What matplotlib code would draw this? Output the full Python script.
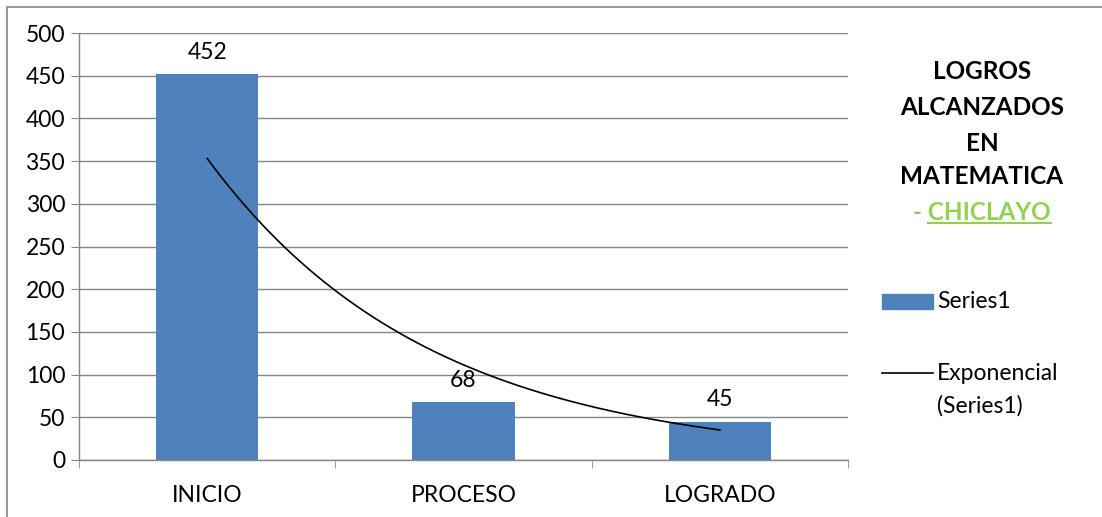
import numpy as np
import matplotlib
matplotlib.use("Agg")
import matplotlib.pyplot as plt
from matplotlib.lines import Line2D
from matplotlib.patches import Rectangle

plt.rcParams['font.family'] = ['Lato', 'DejaVu Sans']

categorias = ['INICIO', 'PROCESO', 'LOGRADO']
valores = [452, 68, 45]
yticks = [0, 50, 100, 150, 200, 250, 300, 350, 400, 450, 500]

W, H = 1102, 517
FS = 16.5
azul = '#4F81BD'
fig = plt.figure(figsize=(W / 100, H / 100), dpi=100)
ax = fig.add_axes([79 / W, (H - 460) / H, (848 - 79) / W, (460 - 33) / H])

x = np.arange(len(categorias))
barras = ax.bar(x, valores, width=0.4, color=azul, zorder=2)

# linea de tendencia exponencial (ajuste en log, como Excel)
b, a = np.polyfit(x + 1, np.log(valores), 1)
xs = np.linspace(1, len(valores), 200)
ax.plot(xs - 1, np.exp(a + b * xs), color='black', lw=1.2, zorder=3)

for xi, v in zip(x, valores):
    ax.annotate(str(v), (xi, v), xytext=(0, 8), textcoords='offset points',
                ha='center', va='bottom', fontsize=FS)

ax.set_xlim(-0.5, len(categorias) - 0.5)
ax.set_ylim(0, 500)
ax.set_yticks(yticks)
ax.set_xticks(x)
ax.set_xticklabels(categorias)
ax.set_xticks(np.arange(len(categorias) + 1) - 0.5, minor=True)
ax.tick_params(axis='x', which='major', length=0, pad=18, labelsize=FS)
ax.tick_params(axis='x', which='minor', length=6, color='#868686', direction='out')
ax.tick_params(axis='y', length=6, color='#868686', labelsize=FS, pad=4)
ax.grid(axis='y', color='#868686', lw=1, zorder=0)
ax.set_axisbelow(True)
for s in ['top', 'right']:
    ax.spines[s].set_visible(False)
for s in ['left', 'bottom']:
    ax.spines[s].set_color('#868686')
    ax.spines[s].set_linewidth(1)

# borde del grafico
fig.patches.append(Rectangle((7 / W, -0.1), 1.2, 1 - 7 / H + 0.1, transform=fig.transFigure,
                             fill=False, edgecolor='#868686', lw=1.2))

# titulo a la derecha
TS = 17.5
lineas = ['LOGROS', 'ALCANZADOS', 'EN', 'MATEMATICA']
ys = [71, 107, 143, 177]
for t, yy in zip(lineas, ys):
    fig.text(982 / W, 1 - yy / H, t, ha='center', va='center', fontsize=TS,
             fontweight='bold')
verde = '#92D050'
t1 = fig.text(982 / W, 1 - 212 / H, '- CHICLAYO', ha='center', va='center',
              fontsize=TS, fontweight='bold', color=verde)
fig.canvas.draw()
r = fig.canvas.get_renderer()
bb = t1.get_window_extent(r)
tmp = fig.text(0, 0, '- ', fontsize=TS, fontweight='bold')
wd = tmp.get_window_extent(r).width
tmp.remove()
fig.add_artist(Line2D([(bb.x0 + wd) / W, bb.x1 / W], [(bb.y0 + 1) / H, (bb.y0 + 1) / H],
                      transform=fig.transFigure, color=verde, lw=1.5))

# leyenda
fig.patches.append(Rectangle((882 / W, 1 - 309 / H), 51 / W, 15 / H,
                             transform=fig.transFigure, color=azul))
fig.text(937 / W, 1 - 301 / H, 'Series1', ha='left', va='center', fontsize=FS)
fig.add_artist(Line2D([882 / W, 933 / W], [1 - 373 / H, 1 - 373 / H],
                      transform=fig.transFigure, color='black', lw=1.2))
fig.text(937 / W, 1 - 373 / H, 'Exponencial', ha='left', va='center', fontsize=FS)
fig.text(937 / W, 1 - 406 / H, '(Series1)', ha='left', va='center', fontsize=FS)

fig.savefig('out.png', dpi=100)
